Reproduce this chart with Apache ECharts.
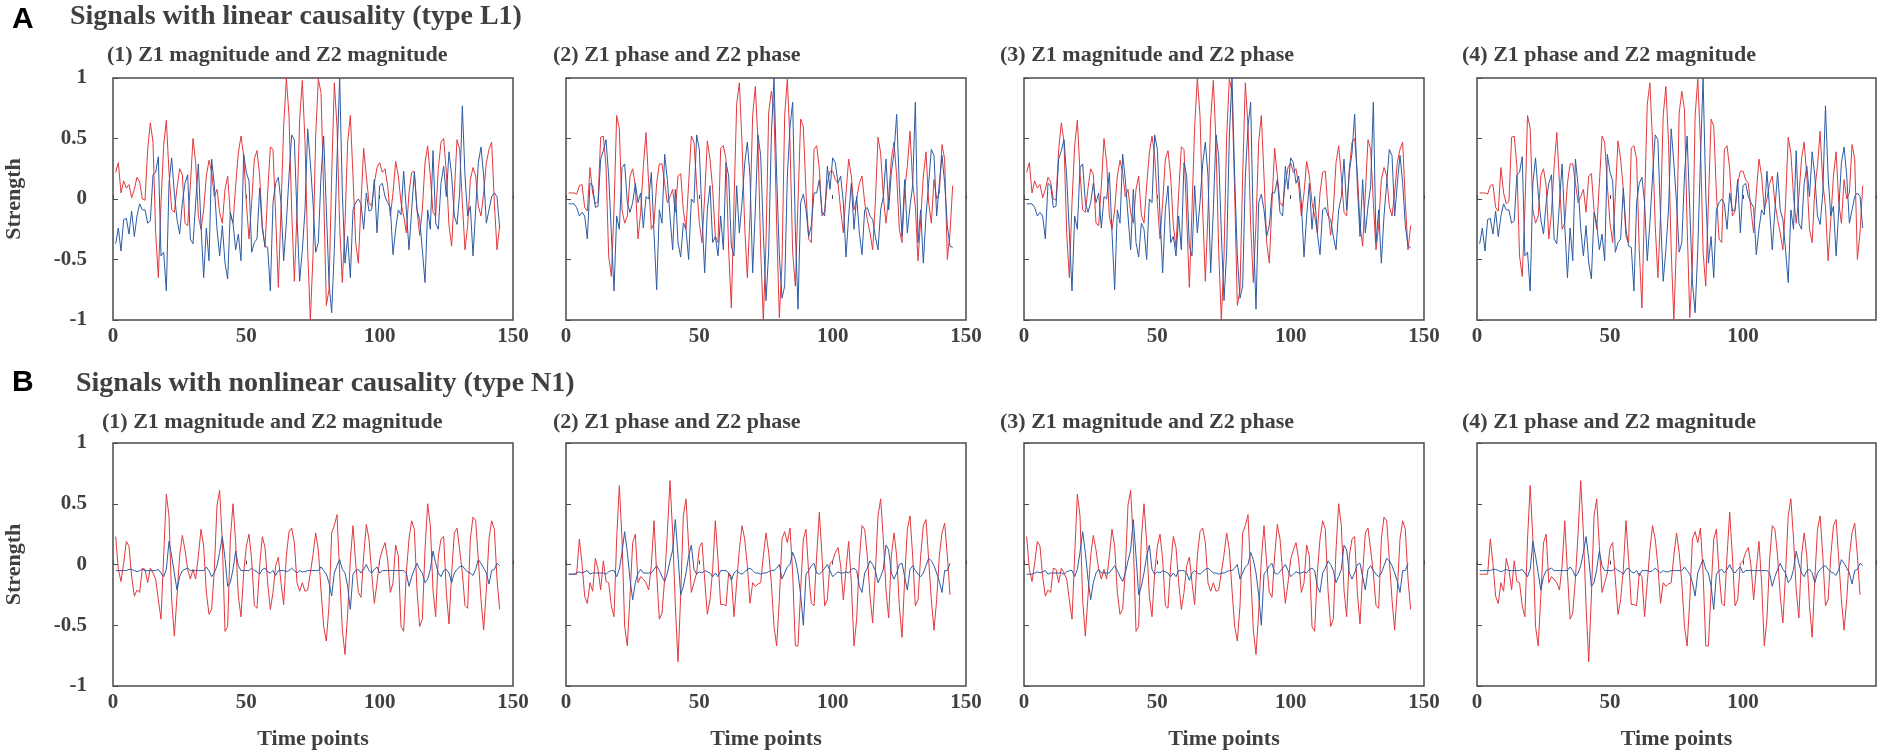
<!DOCTYPE html>
<html>
<head>
<meta charset="utf-8">
<title>Signals with linear and nonlinear causality</title>
<script src="https://cdn.jsdelivr.net/npm/echarts@6/dist/echarts.min.js"></script>
<style>
html, body { margin: 0; padding: 0; background: #fff; }
#main { width: 1879px; height: 754px; }
</style>
</head>
<body>
<div id="main"></div>
<script>
// time axis ticks
var timeTicks = [0, 50, 100, 150];
var strengthTicks = [-1, -0.5, 0, 0.5, 1];

// type L1 (linear causality)
var linZ1Mag = [
  0.22,0.30,0.05,0.15,0.09,0.12,0.01,0.08,0.18,0.14,
  0.00,-0.01,0.41,0.63,0.47,-0.28,-0.65,-0.03,0.44,0.65,
  0.22,-0.09,-0.11,0.09,0.25,0.20,-0.20,-0.22,0.11,0.50,
  0.30,-0.14,-0.25,-0.09,0.19,0.32,0.22,0.02,0.08,-0.11,
  -0.20,0.08,0.19,-0.13,-0.20,0.11,0.38,0.52,0.36,-0.03,
  -0.33,-0.03,0.33,0.40,0.19,-0.22,-0.40,0.05,0.43,0.41,
  -0.14,-0.73,-0.09,0.60,1.00,0.69,-0.09,-0.68,-0.11,0.66,
  0.98,0.47,-0.42,-1.00,-0.47,0.52,0.99,0.88,0.05,-0.88,
  -0.75,0.19,0.96,0.60,-0.22,-0.69,-0.20,0.47,0.69,0.19,
  -0.36,-0.53,-0.03,0.42,0.19,-0.03,-0.06,0.13,0.26,0.30,
  0.22,0.25,0.11,-0.14,0.05,0.31,0.19,-0.03,-0.14,-0.28,
  0.05,0.22,0.23,-0.09,-0.30,-0.09,0.30,0.44,0.19,-0.11,
  -0.14,0.25,0.47,0.50,0.22,-0.22,-0.39,0.05,0.49,0.41,
  -0.03,-0.42,-0.22,0.16,0.26,0.19,-0.06,-0.14,0.05,0.30,
  0.41,0.47,-0.03,-0.42,-0.22
];
var linZ2Mag = [
  -0.37,-0.24,-0.43,-0.17,-0.16,-0.29,-0.10,-0.31,-0.14,-0.04,
  -0.09,-0.09,-0.20,-0.18,0.20,0.22,0.35,-0.47,-0.44,-0.76,
  0.13,0.34,0.05,-0.17,-0.29,-0.03,0.13,0.20,-0.33,-0.37,
  -0.03,0.29,-0.22,-0.65,-0.24,-0.51,0.33,0.11,-0.25,-0.47,
  -0.22,-0.53,-0.66,-0.11,-0.20,-0.42,-0.29,-0.51,0.37,0.22,
  0.15,-0.44,-0.36,-0.33,0.09,-0.25,-0.39,-0.40,-0.76,-0.03,
  0.13,0.18,-0.03,-0.51,-0.20,0.19,0.53,0.49,-0.14,-0.68,
  -0.42,-0.09,0.58,0.30,-0.03,-0.44,-0.36,0.19,0.52,-0.09,
  -0.69,-0.94,-0.42,0.33,1.00,0.05,-0.53,-0.31,-0.65,-0.09,
  -0.03,0.00,-0.04,-0.25,0.05,-0.10,-0.09,0.16,-0.28,0.11,
  0.13,0.02,-0.03,-0.07,-0.46,-0.25,-0.09,-0.13,0.23,-0.09,
  -0.42,-0.09,0.22,-0.09,-0.17,-0.42,-0.69,-0.09,-0.25,0.40,
  -0.20,-0.25,0.13,0.27,0.02,0.39,0.19,-0.14,-0.21,0.05,
  0.77,0.19,-0.14,-0.06,-0.47,-0.09,0.30,0.43,0.19,-0.20,
  -0.09,0.02,0.05,0.02,-0.24
];
var linZ1Phase = [
  0.05,0.05,0.05,0.04,0.11,0.12,-0.07,-0.10,0.26,0.05,
  -0.04,-0.02,0.51,0.52,0.27,-0.47,-0.64,-0.09,0.69,0.58,
  -0.09,-0.20,-0.14,0.19,0.25,0.11,-0.33,-0.11,0.27,0.55,
  0.13,-0.25,-0.20,0.13,0.29,0.29,0.13,-0.03,0.02,0.08,
  -0.11,0.19,0.21,-0.09,-0.25,0.13,0.52,0.47,0.11,-0.20,
  -0.36,0.02,0.48,0.33,0.08,-0.31,-0.36,0.42,0.44,0.33,
  -0.42,-0.90,-0.03,0.78,0.96,0.47,-0.22,-0.65,-0.14,0.69,
  0.93,0.47,-0.42,-1.00,-0.36,0.71,0.89,0.74,-0.22,-0.98,
  -0.53,0.69,0.99,0.47,-0.44,-0.72,-0.03,0.66,0.60,0.05,
  -0.33,-0.36,0.41,0.44,0.25,-0.14,-0.10,0.13,0.23,0.23,
  0.16,0.13,-0.09,-0.28,0.05,0.33,0.19,-0.09,0.00,0.13,
  0.19,-0.03,-0.17,-0.28,-0.42,-0.03,0.51,0.38,0.02,-0.20,
  0.02,0.33,0.47,0.19,-0.25,-0.36,0.08,0.27,0.56,0.13,
  -0.06,-0.51,-0.17,0.19,0.39,-0.03,-0.20,0.16,0.00,0.05,
  0.45,0.33,-0.50,-0.28,0.11
];
var linZ2Phase = [
  -0.04,-0.04,-0.04,-0.07,-0.14,-0.11,-0.14,-0.33,0.13,0.11,
  -0.07,-0.06,0.33,0.40,0.49,0.19,-0.28,-0.76,-0.14,-0.25,
  0.26,0.29,-0.03,-0.11,-0.03,0.13,-0.03,0.05,-0.24,0.02,
  0.00,0.22,-0.28,-0.75,-0.09,-0.20,0.37,0.16,-0.14,-0.42,
  0.08,-0.36,-0.48,-0.20,-0.25,-0.50,0.00,-0.03,0.53,0.41,
  -0.14,-0.61,-0.09,0.11,-0.36,-0.31,-0.47,-0.14,-0.42,0.30,
  0.19,-0.39,-0.47,0.11,-0.28,-0.03,0.29,0.47,0.19,-0.61,
  -0.09,0.53,0.36,-0.28,-0.84,-0.44,0.52,1.00,0.19,-0.47,
  -0.82,-0.72,0.19,0.60,0.80,-0.25,-0.91,-0.03,0.04,-0.09,
  -0.31,-0.22,0.05,0.05,0.16,-0.11,-0.14,0.27,0.08,0.34,
  0.30,0.13,0.19,-0.03,-0.48,-0.14,0.13,-0.25,0.02,-0.28,
  -0.46,-0.09,-0.07,-0.14,-0.17,-0.31,-0.42,-0.09,0.02,0.33,
  -0.09,0.22,0.38,0.70,0.11,-0.31,0.16,-0.28,-0.06,0.11,
  0.80,-0.36,-0.09,-0.53,-0.14,0.13,0.41,0.36,-0.14,0.13,
  0.36,0.13,-0.22,-0.39,-0.40
];

// type N1 (nonlinear causality)
var nonZ1Mag = [
  0.23,-0.04,-0.14,0.01,0.19,0.15,-0.10,-0.26,-0.21,-0.23,
  -0.03,-0.04,-0.15,-0.03,-0.07,-0.12,-0.29,-0.45,0.07,0.58,
  0.40,-0.29,-0.59,-0.26,0.07,0.24,0.12,-0.04,-0.12,-0.04,
  -0.12,0.07,0.29,0.15,-0.23,-0.41,-0.37,-0.04,0.49,0.61,
  0.18,-0.55,-0.51,0.21,0.50,0.18,-0.26,-0.43,-0.07,0.15,
  0.25,0.04,-0.34,-0.36,-0.01,0.23,0.14,-0.15,-0.37,-0.23,
  -0.01,0.06,-0.15,-0.33,0.07,0.27,0.30,0.18,-0.15,-0.22,
  -0.15,-0.22,-0.21,-0.07,0.08,0.26,0.12,-0.21,-0.51,-0.63,
  -0.34,0.26,0.32,0.41,-0.07,-0.54,-0.74,-0.40,0.04,0.32,
  0.01,-0.23,-0.27,0.07,0.33,0.21,-0.07,-0.32,-0.15,0.04,
  0.12,0.18,0.04,-0.23,-0.15,0.16,0.07,-0.51,-0.55,-0.07,
  0.21,0.36,0.29,-0.21,-0.51,-0.45,0.12,0.50,0.32,-0.21,
  -0.43,0.07,0.21,0.23,-0.23,-0.49,-0.07,0.26,0.30,0.12,
  -0.07,-0.34,-0.36,0.21,0.39,0.36,0.04,-0.29,-0.54,-0.21,
  0.21,0.36,0.29,-0.12,-0.37
];
var nonZ2Mag = [
  -0.05,-0.05,-0.05,-0.05,-0.05,-0.04,-0.04,-0.05,-0.06,-0.05,
  -0.04,-0.05,-0.05,-0.05,-0.05,-0.05,-0.04,-0.07,-0.10,-0.04,
  0.19,0.07,-0.07,-0.21,-0.10,-0.05,-0.04,-0.03,-0.05,-0.05,
  -0.05,-0.05,-0.05,-0.05,-0.02,-0.05,-0.10,-0.07,-0.01,0.10,
  0.23,0.05,-0.18,-0.15,-0.04,0.11,-0.01,-0.05,-0.05,-0.05,
  -0.05,-0.03,-0.05,-0.06,-0.08,-0.04,-0.03,-0.06,-0.07,-0.05,
  -0.09,-0.05,-0.05,-0.05,-0.06,-0.05,-0.03,-0.05,-0.07,-0.05,
  -0.06,-0.06,-0.05,-0.05,-0.05,-0.05,-0.05,-0.02,-0.05,-0.08,
  -0.15,-0.26,-0.07,-0.01,0.04,-0.04,-0.07,-0.18,-0.37,-0.08,
  -0.05,-0.04,-0.07,-0.04,0.00,-0.05,-0.07,-0.04,-0.02,-0.07,
  -0.05,-0.05,-0.05,-0.05,-0.05,-0.05,-0.05,-0.05,-0.05,-0.07,
  -0.18,-0.10,-0.04,0.01,-0.04,-0.07,-0.15,-0.12,-0.04,0.11,
  0.01,-0.07,-0.10,-0.05,-0.04,-0.07,-0.15,-0.07,-0.04,-0.02,
  -0.01,-0.04,-0.06,-0.07,-0.09,-0.04,0.04,0.01,-0.03,-0.07,
  -0.16,-0.05,-0.04,0.01,-0.01
];
var nonZ1Phase = [
  -0.08,-0.08,-0.08,-0.08,0.21,0.01,-0.26,-0.32,-0.15,-0.22,
  0.05,-0.04,-0.21,0.03,-0.14,-0.15,-0.34,-0.43,0.21,0.65,
  0.21,-0.51,-0.67,-0.26,0.18,0.25,-0.15,-0.10,-0.12,-0.15,
  -0.21,-0.01,0.36,-0.07,-0.45,-0.40,-0.12,0.26,0.69,0.26,
  -0.34,-0.80,-0.26,0.40,0.54,0.15,-0.23,-0.15,-0.07,0.14,
  0.18,-0.12,-0.41,-0.29,-0.04,0.36,0.04,-0.33,-0.33,-0.34,
  -0.07,-0.10,-0.43,-0.15,0.12,0.32,0.21,-0.01,-0.32,-0.15,
  -0.18,-0.16,-0.15,0.07,0.26,0.10,-0.15,-0.51,-0.67,-0.29,
  0.21,0.27,0.18,0.30,-0.07,-0.67,-0.67,-0.21,0.21,0.29,
  -0.07,-0.32,-0.34,0.07,0.43,0.07,-0.34,-0.29,0.01,0.03,
  0.10,0.14,-0.01,-0.29,-0.04,0.19,-0.15,-0.67,-0.45,0.04,
  0.32,0.29,0.07,-0.26,-0.48,-0.07,0.40,0.54,0.21,-0.21,
  -0.44,0.07,0.26,0.07,-0.34,-0.60,-0.12,0.29,0.40,0.07,
  -0.34,-0.29,0.07,0.32,0.37,0.04,-0.29,-0.54,-0.29,0.07,
  0.26,0.34,0.07,-0.25
];
var nonZ2Phase = [
  -0.08,-0.08,-0.08,-0.07,-0.06,-0.07,-0.06,-0.05,-0.08,-0.07,
  -0.07,-0.07,-0.07,-0.07,-0.08,-0.06,-0.05,-0.05,-0.10,-0.04,
  0.10,0.27,0.10,-0.12,-0.29,-0.15,-0.07,-0.04,-0.07,-0.07,
  -0.07,-0.07,-0.04,-0.01,-0.05,-0.10,-0.14,-0.07,0.03,0.12,
  0.37,0.07,-0.25,-0.18,-0.07,0.07,0.16,-0.04,-0.08,-0.06,
  -0.07,-0.05,-0.06,-0.07,-0.10,-0.07,-0.10,-0.05,-0.05,-0.05,
  -0.07,-0.13,-0.07,-0.05,-0.07,-0.08,-0.06,-0.04,-0.03,-0.05,
  -0.07,-0.07,-0.08,-0.07,-0.07,-0.06,-0.05,-0.05,-0.03,0.00,
  -0.12,-0.07,-0.02,0.00,0.10,0.04,-0.07,-0.25,-0.50,-0.08,
  -0.05,-0.01,0.01,-0.07,-0.08,-0.06,-0.03,0.00,-0.05,-0.10,
  -0.08,-0.06,-0.07,-0.07,-0.06,-0.07,-0.04,-0.03,-0.05,-0.18,
  -0.23,-0.07,-0.03,0.03,0.00,-0.05,-0.15,-0.10,-0.04,0.16,
  0.12,-0.07,-0.12,-0.07,0.00,0.01,-0.10,-0.21,-0.04,-0.01,
  -0.05,-0.08,-0.10,-0.07,-0.01,0.05,0.03,-0.01,-0.07,-0.14,
  -0.23,-0.05,-0.05,0.01
];

var subTitles = [
  '(1) Z1 magnitude and Z2 magnitude',
  '(2) Z1 phase and Z2 phase',
  '(3) Z1 magnitude and Z2 phase',
  '(4) Z1 phase and Z2 magnitude'
];
// red = Z1, blue = Z2, per panel
var redSignals = [linZ1Mag, linZ1Phase, linZ1Mag, linZ1Phase, nonZ1Mag, nonZ1Phase, nonZ1Mag, nonZ1Phase];
var blueSignals = [linZ2Mag, linZ2Phase, linZ2Phase, linZ2Mag, nonZ2Mag, nonZ2Phase, nonZ2Phase, nonZ2Mag];

var RED = '#e3393e', BLUE = '#2d5ba3', INK = '#404040';
var colLeft = [113, 566, 1024, 1477];
var colWidth = [400, 400, 400, 399];
var rowTop = [78, 443];
var rowHeight = [242, 243];
var subLeft = [[107, 553, 1000, 1462], [102, 553, 1000, 1462]];
var serif = 'Liberation Serif';

function toPoints(arr) {
  return arr.map(function (v, i) { return [i + 1, v]; });
}

var chart = echarts.init(document.getElementById('main'));

var grids = [], xAxes = [], yAxes = [], series = [];
var titles = [
  { text: 'A', left: 12, top: 5, padding: 0,
    textStyle: { fontFamily: 'Liberation Sans', fontWeight: 'bold', fontSize: 30, color: '#000' } },
  { text: 'Signals with linear causality (type L1)', left: 70, top: 3, padding: 0,
    textStyle: { fontFamily: serif, fontWeight: 'bold', fontSize: 28, color: INK } },
  { text: 'B', left: 12, top: 368, padding: 0,
    textStyle: { fontFamily: 'Liberation Sans', fontWeight: 'bold', fontSize: 30, color: '#000' } },
  { text: 'Signals with nonlinear causality (type N1)', left: 76, top: 370, padding: 0,
    textStyle: { fontFamily: serif, fontWeight: 'bold', fontSize: 28, color: INK } }
];

for (var r = 0; r < 2; r++) {
  for (var c = 0; c < 4; c++) {
    var i = r * 4 + c;
    grids.push({
      left: colLeft[c], top: rowTop[r], width: colWidth[c], height: rowHeight[r],
      show: true, borderColor: '#4a4a4a', borderWidth: 1.5, backgroundColor: '#fff'
    });
    titles.push({
      text: subTitles[c], left: subLeft[r][c], top: r === 0 ? 44 : 411, padding: 0,
      textStyle: { fontFamily: serif, fontWeight: 'bold', fontSize: 22, color: INK }
    });
    xAxes.push({
      type: 'value', gridIndex: i, min: timeTicks[0], max: timeTicks[timeTicks.length - 1], interval: 50,
      axisLine: { show: false },
      axisTick: { show: true, inside: true, length: 4, lineStyle: { color: '#4a4a4a', width: 1 } },
      splitLine: { show: false },
      axisLabel: {
        margin: 6, fontFamily: serif, fontWeight: 'bold', fontSize: 21, color: INK,
        formatter: (c === 3) ? function (v) { return v === 150 ? '' : v; } : '{value}'
      },
      name: r === 1 ? 'Time points' : '', nameLocation: 'middle', nameGap: 42,
      nameTextStyle: { fontFamily: serif, fontWeight: 'bold', fontSize: 22, color: INK }
    });
    yAxes.push({
      type: 'value', gridIndex: i, min: strengthTicks[0], max: strengthTicks[strengthTicks.length - 1], interval: 0.5,
      axisLine: { show: false },
      axisTick: { show: true, inside: true, length: 5, lineStyle: { color: '#4a4a4a', width: 1 } },
      splitLine: { show: false },
      axisLabel: {
        show: c === 0, margin: 26, fontFamily: serif, fontWeight: 'bold', fontSize: 21, color: INK
      },
      name: c === 0 ? 'Strength' : '', nameLocation: 'middle', nameGap: 88,
      nameTextStyle: { fontFamily: serif, fontWeight: 'bold', fontSize: 22, color: INK }
    });
    series.push({
      type: 'line', xAxisIndex: i, yAxisIndex: i, data: toPoints(redSignals[i]),
      symbol: 'none', lineStyle: { color: RED, width: 1 }, itemStyle: { color: RED }, silent: true
    });
    series.push({
      type: 'line', xAxisIndex: i, yAxisIndex: i, data: toPoints(blueSignals[i]),
      symbol: 'none', lineStyle: { color: BLUE, width: 1 }, itemStyle: { color: BLUE }, silent: true
    });
  }
}

chart.setOption({
  backgroundColor: '#fff',
  animation: false,
  title: titles,
  grid: grids,
  xAxis: xAxes,
  yAxis: yAxes,
  series: series
});
</script>
</body>
</html>
